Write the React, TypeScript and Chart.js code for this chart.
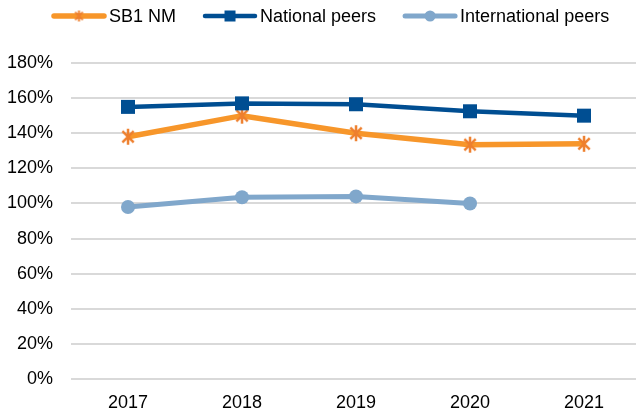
import React, { useEffect, useRef } from 'react';
import { Chart, registerables } from 'chart.js';

Chart.register(...registerables);

const years = ['2017', '2018', '2019', '2020', '2021'];
const sb1Nm = [138, 150, 140, 133.5, 134];
const nationalPeers = [155, 157, 156.5, 152.5, 150];
const internationalPeers = [98, 103.5, 104, 100, null];
const yTickValues = [0, 20, 40, 60, 80, 100, 120, 140, 160, 180];
const seriesNames = ['SB1 NM', 'National peers', 'International peers'];

const FONT = "'Liberation Sans', Arial, sans-serif";
const ORANGE = '#F7962A';
const ORANGE_MARK = '#EE7F2D';
const NAVY = '#004E92';
const LIGHT = '#80A7CB';

function makeStar(size: number, color: string, lw: number) {
  const c = document.createElement('canvas');
  c.width = size;
  c.height = size;
  const g = c.getContext('2d')!;
  g.strokeStyle = color;
  g.lineWidth = lw;
  g.lineCap = 'butt';
  const m = size / 2;
  const r = size / 2 - 1;
  const d = r * Math.SQRT1_2;
  g.beginPath();
  g.moveTo(m, m - r); g.lineTo(m, m + r);
  g.moveTo(m - d, m - d); g.lineTo(m + d, m + d);
  g.moveTo(m - d, m + d); g.lineTo(m + d, m - d);
  g.stroke();
  return c;
}

const legendPlugin = {
  id: 'lineLegend',
  afterDraw(chart: any) {
    const ctx = chart.ctx;
    const y = 16;
    let x = 52;
    const lineLen = 54;
    ctx.save();
    ctx.font = `18px ${FONT}`;
    ctx.textBaseline = 'middle';
    ctx.textAlign = 'left';
    chart.data.datasets.forEach((ds: any) => {
      ctx.strokeStyle = ds.borderColor;
      ctx.lineWidth = ds.borderWidth;
      ctx.lineCap = 'round';
      ctx.beginPath();
      ctx.moveTo(x + 2, y);
      ctx.lineTo(x + lineLen - 2, y);
      ctx.stroke();
      const cx = x + lineLen / 2;
      if (ds.legendMarker === 'rect') {
        ctx.fillStyle = ds.pointBackgroundColor;
        ctx.fillRect(cx - 5.5, y - 5.5, 11, 11);
      } else if (ds.legendMarker === 'circle') {
        ctx.fillStyle = ds.pointBackgroundColor;
        ctx.beginPath();
        ctx.arc(cx, y, 5.5, 0, Math.PI * 2);
        ctx.fill();
      } else {
        const img = ds.legendImage;
        ctx.drawImage(img, cx - img.width / 2, y - img.height / 2);
      }
      ctx.fillStyle = '#000';
      ctx.fillText(ds.label, x + lineLen + 3, y + 1);
      const w = ctx.measureText(ds.label).width;
      x += lineLen + 3 + w + 27;
    });
    ctx.restore();
  },
};

export default function App() {
  const ref = useRef<HTMLCanvasElement | null>(null);

  useEffect(() => {
    document.body.style.margin = '0';
    document.body.style.overflow = 'hidden';
    const star = makeStar(18, ORANGE_MARK, 2.5);
    const starSmall = makeStar(13, ORANGE_MARK, 2);
    const toPts = (arr: (number | null)[]) =>
      arr.map((v, i) => ({ x: i, y: v }));
    const chart = new Chart(ref.current!, {
      type: 'line',
      data: {
        datasets: [
          {
            label: seriesNames[0],
            data: toPts(sb1Nm),
            borderColor: ORANGE,
            backgroundColor: ORANGE,
            borderWidth: 5.5,
            pointStyle: star,
            pointRadius: 9,
            pointBackgroundColor: ORANGE_MARK,
            legendMarker: 'star',
            legendImage: starSmall,
            order: 2,
          } as any,
          {
            label: seriesNames[1],
            data: toPts(nationalPeers),
            borderColor: NAVY,
            backgroundColor: NAVY,
            borderWidth: 4.5,
            pointStyle: 'rect',
            pointRadius: 9.9,
            pointBorderWidth: 0,
            pointBackgroundColor: NAVY,
            legendMarker: 'rect',
            order: 1,
          } as any,
          {
            label: seriesNames[2],
            data: toPts(internationalPeers),
            borderColor: LIGHT,
            backgroundColor: LIGHT,
            borderWidth: 5,
            pointStyle: 'circle',
            pointRadius: 7,
            pointBorderWidth: 0,
            pointBackgroundColor: LIGHT,
            legendMarker: 'circle',
            order: 3,
          } as any,
        ],
      },
      options: {
        animation: false,
        responsive: true,
        maintainAspectRatio: false,
        layout: { autoPadding: false, padding: { top: 63, left: 0, right: 0, bottom: 0 } },
        plugins: {
          legend: { display: false },
          tooltip: { enabled: false },
        },
        scales: {
          x: {
            type: 'linear',
            min: -0.5,
            max: 4.456,
            afterBuildTicks: (s: any) => {
              s.ticks = years.map((_, i) => ({ value: i }));
            },
            afterFit: (s: any) => {
              s.height = 35;
              s.paddingLeft = 0;
              s.paddingRight = 0;
            },
            ticks: {
              callback: (v: any) => years[v] ?? '',
              font: { size: 18, family: FONT },
              color: '#000',
              padding: 13,
              maxRotation: 0,
              autoSkip: false,
            },
            grid: { display: false, drawTicks: false },
            border: { display: false },
          },
          y: {
            min: 0,
            max: 180,
            afterBuildTicks: (s: any) => {
              s.ticks = yTickValues.map((v) => ({ value: v }));
            },
            afterFit: (s: any) => {
              s.width = 71;
            },
            ticks: {
              callback: (v: any) => `${v}%`,
              font: { size: 18, family: FONT },
              color: '#000',
              padding: 18,
            },
            grid: { color: '#D9D9D9', lineWidth: 2, drawTicks: false },
            border: { display: false },
          },
        },
      } as any,
      plugins: [legendPlugin],
    });
    return () => chart.destroy();
  }, []);

  return (
    <div style={{ width: 636, height: 414, position: 'relative' }}>
      <canvas ref={ref} style={{ display: 'block' }} />
    </div>
  );
}
